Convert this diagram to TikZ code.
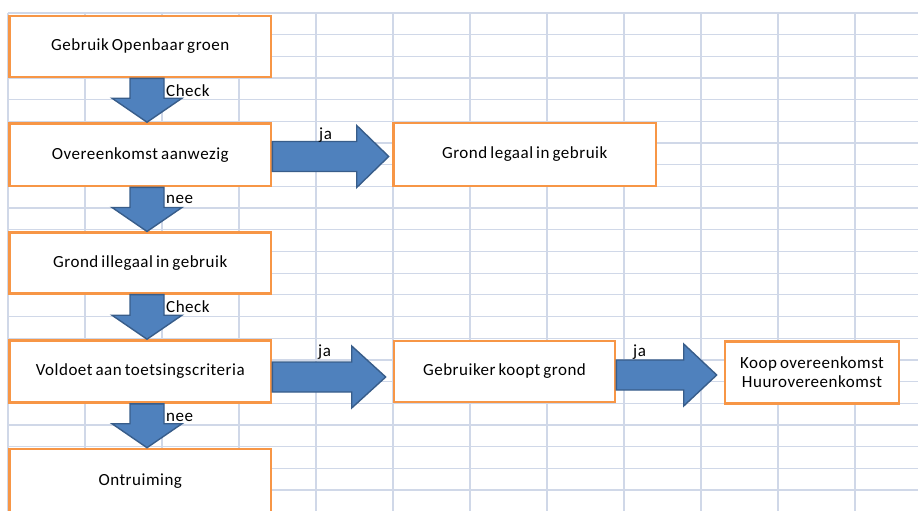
\documentclass[tikz,border=0pt]{standalone}
\usepackage{fontspec}
\setmainfont{Carlito}[LetterSpace=3, WordSpace=0.7]
\usetikzlibrary{calc}
\definecolor{gridc}{HTML}{D0D8E8}
\definecolor{boxc}{HTML}{F79646}
\definecolor{arrfill}{HTML}{4F81BD}
\definecolor{arrline}{HTML}{385D8A}
% down block arrow: from node, to node
\newcommand\dnarr[2]{%
  \draw[barrow] let \p1=(#1.south), \p2=(#2.north) in
    (130pt,\y1) -- (164pt,\y1) -- (164pt,\y2+24pt) -- (182pt,\y2+24pt) --
    (147pt,\y2) -- (112pt,\y2+24pt) -- (130pt,\y2+24pt) -- cycle;}
% right block arrow: from node, to node, centre y (px down), tip gap, head length
\newcommand\rtarr[5]{%
  \draw[barrow] let \p1=(#1.east), \p2=(#2.west) in
    (\x1,-#3pt+15pt) -- (\x2-#4pt-#5pt,-#3pt+15pt) -- (\x2-#4pt-#5pt,-#3pt+31pt) --
    (\x2-#4pt,-#3pt) -- (\x2-#4pt-#5pt,-#3pt-31pt) -- (\x2-#4pt-#5pt,-#3pt-15pt) --
    (\x1,-#3pt-15pt) -- cycle;}
\begin{document}
\begin{tikzpicture}[x=1pt,y=-1pt,
  flowbox/.style={draw=boxc, line width=2.6pt, fill=white, inner sep=0pt,
    font=\fontsize{17}{19}\selectfont, align=center},
  barrow/.style={fill=arrfill, draw=arrline, line width=1.4pt, line join=miter},
  lbl/.style={anchor=base west, inner sep=0pt, font=\fontsize{17}{19}\selectfont},
  gridline/.style={draw=gridc, line width=1.3pt}]
\useasboundingbox (0,0) rectangle (918,511);
% spreadsheet grid
\foreach \k in {0,...,23} \draw[gridline] (8,13+21.68*\k) -- (918,13+21.68*\k);
\foreach \k in {0,...,11} \draw[gridline] (8+77*\k,13) -- (8+77*\k,511);
% boxes
\node[flowbox, minimum width=261.5pt, minimum height=61pt] (b1) at (140.25,46.5) {Gebruik Openbaar groen};
\node[flowbox, minimum width=261.5pt, minimum height=62.5pt] (b2) at (140.25,154.75) {Overeenkomst aanwezig};
\node[flowbox, minimum width=261.5pt, minimum height=60.5pt] (b3) at (140.25,263) {Grond illegaal in gebruik};
\node[flowbox, minimum width=261.5pt, minimum height=62pt] (b4) at (140.25,371.5) {Voldoet aan toetsingscriteria};
\node[flowbox, minimum width=261.5pt, minimum height=64pt] (b5) at (140.25,481) {Ontruiming};
\node[flowbox, minimum width=262.5pt, minimum height=63pt] (leg) at (524.75,154.5) {Grond legaal in gebruik};
\node[flowbox, minimum width=221pt, minimum height=61pt] (koopt) at (504.5,371.5) {Gebruiker koopt grond};
\node[flowbox, minimum width=174pt, minimum height=62pt] (koop) at (812,372.5) {Koop overeenkomst\\Huurovereenkomst};
% block arrows
\dnarr{b1}{b2}
\dnarr{b2}{b3}
\dnarr{b3}{b4}
\dnarr{b4}{b5}
\rtarr{b2}{leg}{156.5}{3.5}{32}
\rtarr{b4}{koopt}{377}{7}{34}
\rtarr{koopt}{koop}{375}{7}{33}
% labels
\node[lbl] (l1) at (166,96) {Check};
\node[lbl] (l2) at (166,203) {nee};
\node[lbl] (l3) at (166,312.3) {Check};
\node[lbl] (l4) at (166,421) {nee};
\node[lbl] (l5) at (319,139) {ja};
\node[lbl] (l6) at (318,356) {ja};
\node[lbl] (l7) at (633,356) {ja};
\end{tikzpicture}
\end{document}
